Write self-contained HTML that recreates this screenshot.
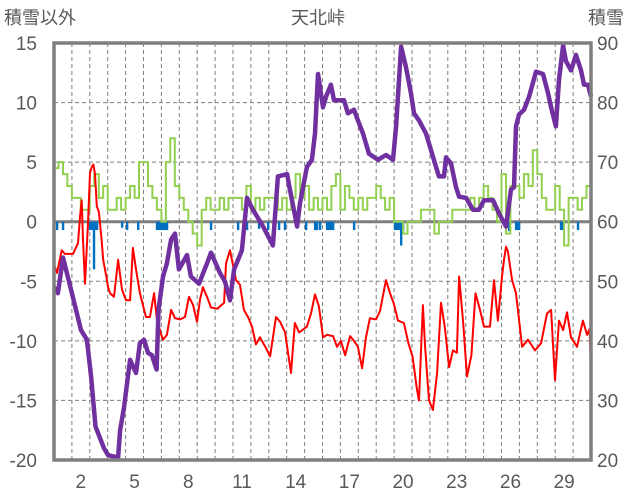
<!DOCTYPE html>
<html><head><meta charset="utf-8">
<style>
html,body{margin:0;padding:0;background:#fff;}
svg{display:block;font-family:"Liberation Sans","Noto Sans CJK JP",sans-serif;}
</style></head>
<body>
<svg id="chart" width="636" height="501" viewBox="0 0 636 501" xmlns="http://www.w3.org/2000/svg">
<text x="4" y="24" font-size="18" fill="#595959">積雪以外</text>
<text x="318" y="24" font-size="18" fill="#595959" text-anchor="middle">天北峠</text>
<text x="588" y="24" font-size="18" fill="#595959">積雪</text>
<g id="grid"></g>
<g id="bars"></g>
<g id="lines"></g>
<g id="frame"></g>
<g id="labels"></g>
</svg>
<script>
const leftTicks=[15,10,5,0,-5,-10,-15,-20];
const rightTicks=[90,80,70,60,50,40,30,20];
const dayLabels=[2,5,8,11,14,17,20,23,26,29];
const snowT=[0,0.22,0.5,0.95,1.51,1.84,2.07,2.32,2.79,3.02,3.58,3.69,3.91,4.13,4.25,4.58,4.8,5.03,5.25,5.47,5.73,5.84,6.09,6.31,6.54,6.76,6.98,7.43,7.65,8.1,8.55,8.77,9.27,9.55,9.83,10.06,10.5,10.78,11.12,11.68,12.23,12.51,13.02,13.18,13.58,13.74,14.13,14.41,14.58,14.75,15.03,15.2,15.47,15.64,16.2,16.42,16.76,16.98,17.26,17.6,18.1,18.55,18.94,19.11,19.39,19.66,19.94,20.11,20.39,20.78,21.06,21.34,21.51,21.79,21.9,22.18,22.46,22.63,23.02,23.41,23.74,24.02,24.53,24.86,25.25,25.53,25.7,25.81,25.98,26.26,26.54,26.93,27.32,27.6,27.77,28.04,28.21,28.44,28.6,28.88,29.16,29.44,29.61,29.83,30];
const snowV=[49,48,54,48.6,41.8,40.2,34,25.6,22,20.8,20.4,25,28.8,34,36.8,34.6,39.6,40.2,38,37.6,35.2,45.2,50.8,53,57,58,52,54.4,50.8,49.6,53,54.8,51.4,50,46.8,52,55.2,64,62,59.2,56,67.6,68,65.4,59.2,63,69.2,70.4,74.8,84.8,79.2,81,83,80.4,80.4,78.2,78.8,77,74.8,71.4,70.4,71.2,70.4,76,89.4,86,81.6,78.2,77,74.8,72,69.2,67.6,67.6,70.8,69.8,65.8,64.2,64,62,62,63.6,63.6,61.4,59.2,65.4,65.8,76,78,78.8,81,85.2,84.8,81.6,79.2,76,83.8,89.6,87,85.4,88,85.4,83,83,81];
const tempT=[0,0.17,0.43,0.61,1.06,1.34,1.45,1.55,1.62,1.73,1.9,2.01,2.11,2.2,2.29,2.39,2.51,2.66,2.75,2.91,3.02,3.13,3.35,3.58,3.8,4.02,4.25,4.41,4.58,4.8,5.14,5.36,5.59,5.73,5.95,6.09,6.31,6.54,6.76,7.04,7.32,7.54,7.77,7.99,8.16,8.32,8.55,8.77,9.13,9.5,9.61,9.83,10.17,10.39,10.61,10.84,11.06,11.28,11.51,11.84,12.07,12.4,12.63,12.91,13.24,13.46,13.69,14.13,14.36,14.58,14.8,15.03,15.25,15.59,15.81,16.03,16.26,16.54,16.76,16.98,17.21,17.43,17.65,17.99,18.21,18.55,18.77,18.99,19.22,19.55,19.8,20.03,20.28,20.39,20.61,20.73,20.95,21.17,21.4,21.62,21.84,22.07,22.29,22.51,22.63,22.85,23.07,23.32,23.55,23.8,24.02,24.36,24.58,24.8,25.03,25.14,25.25,25.36,25.59,25.81,26.15,26.48,26.87,27.21,27.54,27.77,27.99,28.21,28.44,28.66,28.88,29.22,29.55,29.78,29.92,30];
const tempV=[-3.6,-4.3,-2.4,-2.7,-2.7,-1.8,0.4,1.8,-1.5,-5.2,-0.1,4.1,4.6,4.8,4,1.3,0.8,-1.5,-3.2,-4.5,-5.5,-6,-6.3,-3.2,-5.7,-6.6,-6.6,-2.2,-4,-6,-8,-8,-6,-8,-9.3,-9.9,-9.5,-7.4,-8.1,-8.2,-8,-6.3,-7,-8.4,-6.5,-5.5,-6.3,-7.2,-7.3,-6.8,-3.5,-2.4,-4.9,-5.3,-7.4,-8,-8.8,-10.3,-9.7,-10.6,-11.3,-8,-8.4,-9.3,-12.7,-8.5,-9.3,-8.8,-7.7,-6.1,-7.1,-9.7,-9.5,-9.6,-10.5,-10,-11.2,-9.6,-10,-10.5,-12.3,-9.7,-8.1,-8.2,-7.5,-4.9,-6,-6.9,-8.3,-8.5,-10.2,-11.3,-14.1,-15,-7,-10.5,-15,-15.8,-12.7,-6.8,-8.9,-12.2,-10.8,-11,-4.6,-8.3,-13,-11.2,-6,-7.4,-8.8,-8.8,-4.9,-8.3,-4.6,-3.2,-2.1,-2.5,-4.9,-6,-10.5,-9.9,-10.8,-10.2,-7.7,-7.4,-13.3,-8.3,-9.1,-7.6,-9.7,-10.5,-8.3,-9.5,-9,-12.7];
const windV=[4.5,5,4,3, 2,2,1,1, 3,4,2,3, 1,1,2,1, 2,3,2,5, 5,3,2,1, 0,5,7,3, 2,1,0,-1, -2,1,2,1, 1,2,1,2,
2,2,1,3, 1,2,1,2, 2,2,1,2, 1,2,4,2, 3,1,2,1, 2,1,3,4, 1,3,2,1, 2,1,2,2, 3,2,1,2, 0,0,-1,0,
0,0,1,1, 1,-1,0,0, 0,1,1,1, 1,2,1,2, 3,2,1,0, 4,-1,3,3, 2,4,3,6, 4,2,1,1, 3,1,-2,2, 2,1,2,3];
const precipT=[0.17,0.5,2.0,2.12,2.23,2.29,2.4,3.8,4.08,4.7,5.75,5.87,5.98,6.09,6.2,6.31,8.77,10.28,10.67,10.78,11.45,11.96,12.57,12.9,14.08,14.58,14.69,14.86,15.25,15.36,15.47,15.59,16.76,19.05,19.16,19.27,19.39,19.5,25.42,25.81,25.92,25.98,28.32,28.44,29.27];
const precipV=[0.7,0.7,0.7,0.7,4,0.7,0.7,0.5,0.7,0.7,0.7,0.7,0.7,0.7,0.7,0.7,0.7,0.7,0.7,0.7,0.6,0.7,0.7,0.7,0.7,0.7,0.7,0.7,0.7,0.7,0.7,0.7,0.7,0.7,0.7,0.7,2,0.7,0.8,0.7,0.7,0.7,0.7,0.7,0.7];

const X0=54,X1=591,Y0=43,Y1=460,DAYS=30;
const xs=t=>X0+t*(X1-X0)/DAYS;
const yL=v=>Y1-(v+20)*(Y1-Y0)/35;
const yR=s=>Y1-(s-20)*(Y1-Y0)/70;
const NS="http://www.w3.org/2000/svg";
function mk(tag,attrs,parent){const e=document.createElementNS(NS,tag);for(const k in attrs)e.setAttribute(k,attrs[k]);parent.appendChild(e);return e;}
const grid=document.getElementById('grid'),bars=document.getElementById('bars'),lines=document.getElementById('lines'),frame=document.getElementById('frame'),labels=document.getElementById('labels');
for(let d=1;d<DAYS;d++){
  const l=mk('line',{x1:xs(d),x2:xs(d),y1:Y0,y2:Y1,stroke:'#7f7f7f','stroke-width':1,'stroke-dasharray':'4,3'},grid);
  
  
}
leftTicks.forEach((v,i)=>{
  if(v!==15&&v!==-20&&v!==0){
    const l=mk('line',{x1:X0,x2:X1,y1:yL(v),y2:yL(v),stroke:'#7f7f7f','stroke-width':1,'stroke-dasharray':'4,3'},grid);
    
    
  }
  const t=mk('text',{x:37,y:yL(v)+7,'font-size':19,fill:'#595959','text-anchor':'end'},labels);t.textContent=v;
  
  
});
rightTicks.forEach(s=>{
  const t=mk('text',{x:597,y:yR(s)+7,'font-size':19,fill:'#595959'},labels);t.textContent=s;
  
  
});
dayLabels.forEach(d=>{
  const t=mk('text',{x:xs(d-0.5),y:488,'font-size':19,fill:'#595959','text-anchor':'middle'},labels);t.textContent=d;
  
  
});
precipT.forEach((t,i)=>{
  const r=mk('rect',{x:xs(t)-1.1,y:yL(0),width:2.4,height:yL(-precipV[i])-yL(0),fill:'#0070c0'},bars);
  
  
});
const z=mk('line',{x1:X0,x2:X1,y1:yL(0),y2:yL(0),stroke:'#7f7f7f','stroke-width':3},grid);


let wpts=[];
windV.forEach((v,i)=>{wpts.push(xs(i*0.25).toFixed(1)+','+yL(v).toFixed(1));wpts.push(xs(i*0.25+0.25).toFixed(1)+','+yL(v).toFixed(1));});
const w=mk('polyline',{points:wpts.join(' '),fill:'none',stroke:'#92d050','stroke-width':2,'stroke-linejoin':'miter'},lines);


let tp=tempT.map((t,i)=>xs(t).toFixed(1)+','+yL(tempV[i]).toFixed(1)).join(' ');
const tl=mk('polyline',{points:tp,fill:'none',stroke:'#ff0000','stroke-width':2,'stroke-linejoin':'round'},lines);


let sp=snowT.map((t,i)=>xs(t).toFixed(1)+','+yR(snowV[i]).toFixed(1)).join(' ');
const sl=mk('polyline',{points:sp,fill:'none',stroke:'#7030a0','stroke-width':4.5,'stroke-linejoin':'round'},lines);


const f=mk('rect',{x:X0,y:Y0,width:X1-X0,height:Y1-Y0,fill:'none',stroke:'#7f7f7f','stroke-width':3.5},frame);


</script>
</body></html>
